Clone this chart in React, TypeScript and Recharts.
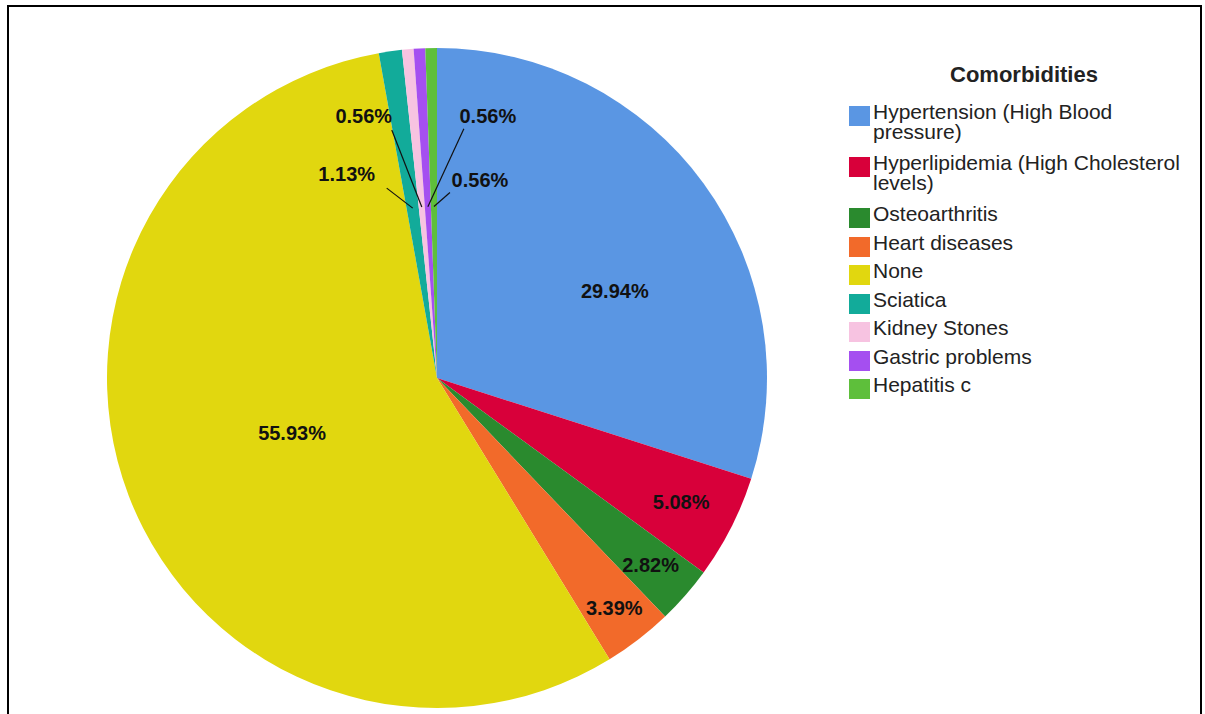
import { PieChart, Pie, Cell, Legend } from 'recharts'

const categories = [
  'Hypertension (High Blood\npressure)',
  'Hyperlipidemia (High Cholesterol\nlevels)',
  'Osteoarthritis',
  'Heart diseases',
  'None',
  'Sciatica',
  'Kidney Stones',
  'Gastric problems',
  'Hepatitis c',
]
const counts = [53, 9, 5, 6, 99, 2, 1, 1, 1]
const colors = ['#5a96e3', '#d8003a', '#2a8a2e', '#f26a2a', '#e1d70f', '#12ab9a', '#f7c3e1', '#a54ff0', '#5ebf3b']

const data = categories.map((name, i) => ({ name, value: counts[i] }))

const RAD = Math.PI / 180
const CX = 437
const CY = 378
const R = 330

// leader-line offsets for the thin slices: [outer end dx, dy, text dx, dy]
const leaders: Record<number, number[]> = {
  5: [-26, -20, -40, -14],
  6: [-30, -77, -28, -14],
  7: [36, -78, 24, -13],
  8: [16, -14, 30, -12],
}

function PieLabel({ cx, cy, midAngle, percent, index }: any) {
  const txt = (percent * 100).toFixed(2) + '%'
  const style = { fontFamily: 'Liberation Sans, Arial, sans-serif', fontWeight: 700, fontSize: 20, fill: '#111' }
  if (percent < 0.02) {
    const ix = cx + R * 0.52 * Math.cos(-midAngle * RAD)
    const iy = cy + R * 0.52 * Math.sin(-midAngle * RAD)
    const l = leaders[index] || [0, -40, 0, -14]
    const ox = ix + l[0]
    const oy = iy + l[1]
    return (
      <g>
        <line x1={ix} y1={iy} x2={ox} y2={oy} stroke="#111" strokeWidth={1.2} />
        <text x={ox + l[2]} y={oy + l[3]} textAnchor="middle" dominantBaseline="central" style={style}>{txt}</text>
      </g>
    )
  }
  let f = 0.83
  let a = midAngle
  if (percent > 0.5) f = 0.47
  else if (percent > 0.2) {
    f = 0.6
    a = midAngle - 10
  } else if (percent < 0.03) f = 0.86
  else if (percent < 0.04) f = 0.88
  const x = cx + R * f * Math.cos(-a * RAD)
  const y = cy + R * f * Math.sin(-a * RAD)
  return (
    <text x={x} y={y} textAnchor="middle" dominantBaseline="central" style={style}>{txt}</text>
  )
}

function LegendBox() {
  return (
    <div style={{ fontFamily: 'Liberation Sans, Arial, sans-serif', color: '#222' }}>
      <div style={{ fontWeight: 700, fontSize: 22, lineHeight: '24px', textAlign: 'center', width: 350, marginBottom: 15 }}>Comorbidities</div>
      {categories.map((c, i) => (
        <div key={c} style={{ display: 'flex', alignItems: 'flex-start', marginBottom: c.includes('\n') ? 11 : 8.5 }}>
          <div style={{ width: 21, height: 20, background: colors[i], marginTop: 4, marginBottom: -4, marginRight: 3, flexShrink: 0 }} />
          <div style={{ fontSize: 21, lineHeight: '20px', whiteSpace: 'pre-line' }}>{c}</div>
        </div>
      ))}
    </div>
  )
}

export default function App() {
  return (
    <div style={{ position: 'absolute', left: 0, top: 0, width: 1205, height: 714, overflow: 'hidden', background: '#fff' }}>
      <div style={{ position: 'absolute', left: 7, top: 5, width: 1191, height: 760, border: '2px solid #000' }} />
      <PieChart width={1205} height={714} margin={{ top: 0, right: 0, bottom: 0, left: 0 }}>
        <Pie
          data={data}
          dataKey="value"
          nameKey="name"
          cx={CX}
          cy={CY}
          outerRadius={R}
          startAngle={90}
          endAngle={-270}
          stroke="none"
          labelLine={false}
          label={PieLabel}
          isAnimationActive={false}
        >
          {data.map((d, i) => (
            <Cell key={d.name} fill={colors[i]} />
          ))}
        </Pie>
        <Legend content={<LegendBox />} layout="vertical" wrapperStyle={{ left: 849, top: 63, width: 350 }} />
      </PieChart>
    </div>
  )
}
